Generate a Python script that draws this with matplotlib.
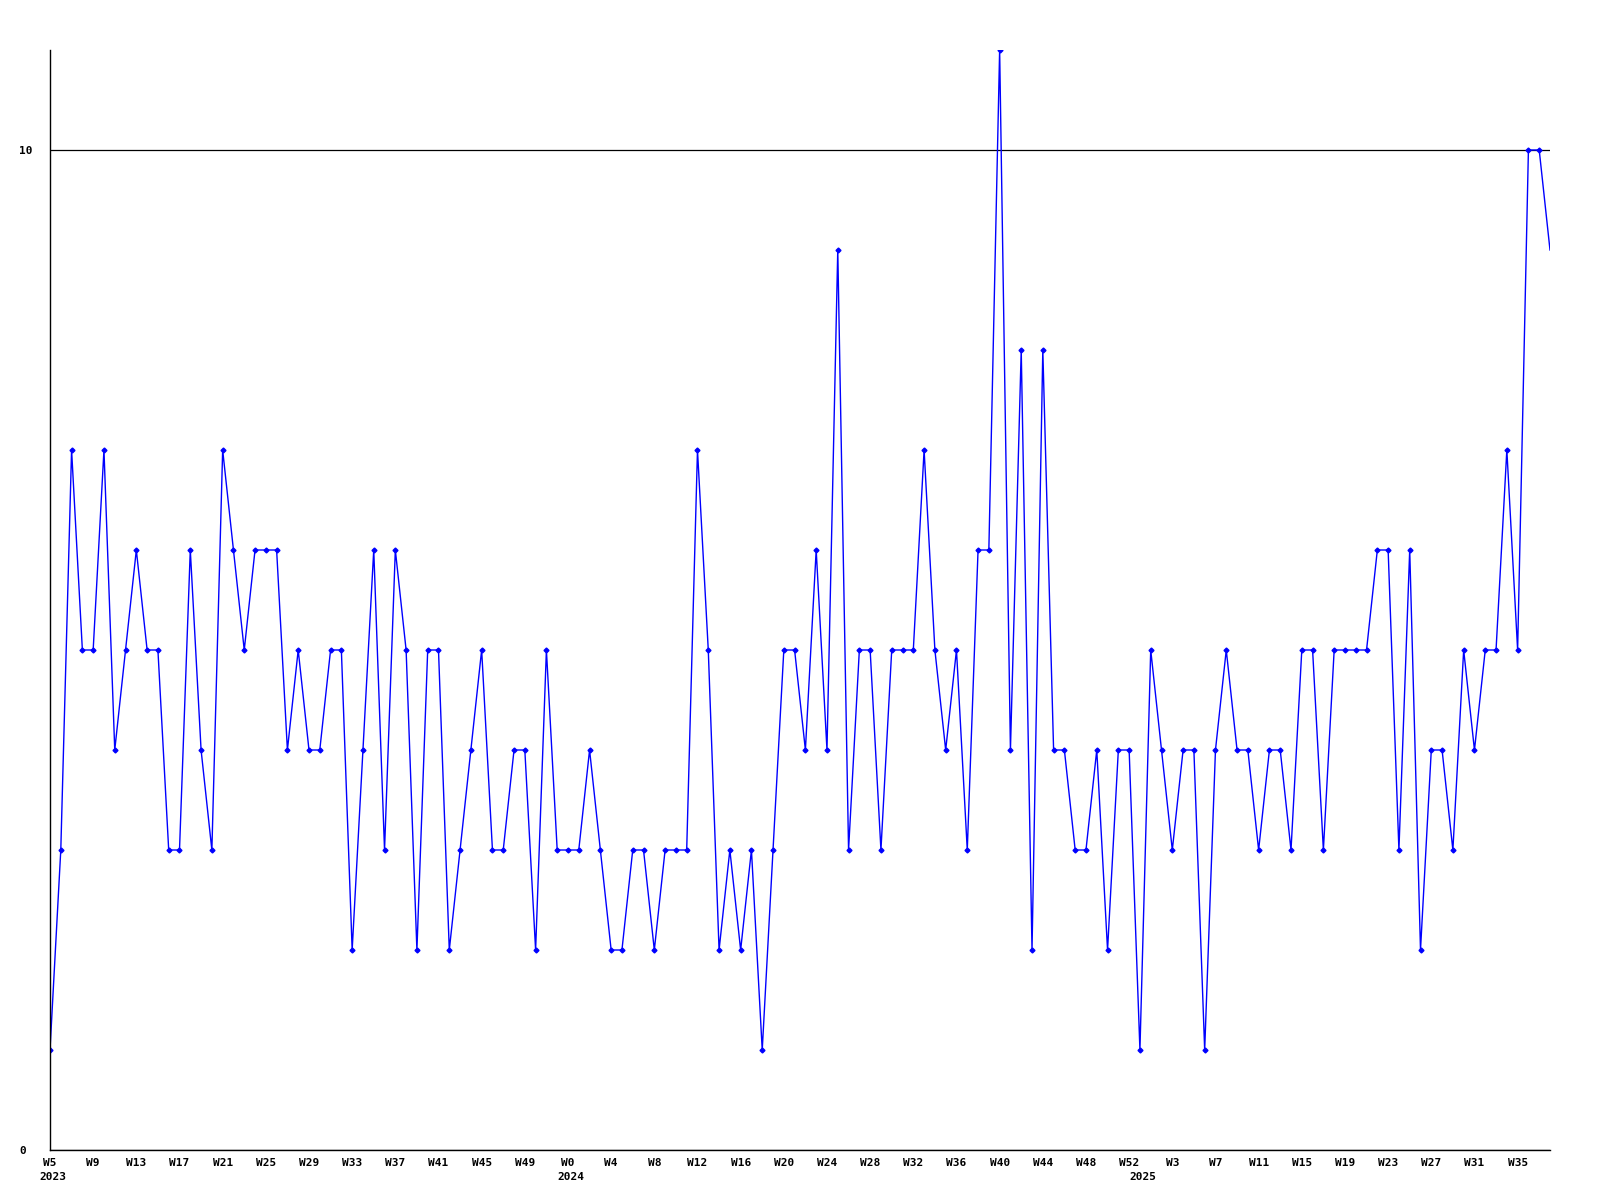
import matplotlib
matplotlib.use("Agg")
import matplotlib.pyplot as plt
import matplotlib.transforms as mtransforms

# weekly counts, W5 2023 .. W37 2025
values = [1, 3, 7, 5, 5, 7, 4, 5, 6, 5,
          5, 3, 3, 6, 4, 3, 7, 6, 5, 6,
          6, 6, 4, 5, 4, 4, 5, 5, 2, 4,
          6, 3, 6, 5, 2, 5, 5, 2, 3, 4,
          5, 3, 3, 4, 4, 2, 5, 3, 3, 3,
          4, 3, 2, 2, 3, 3, 2, 3, 3, 3,
          7, 5, 2, 3, 2, 3, 1, 3, 5, 5,
          4, 6, 4, 9, 3, 5, 5, 3, 5, 5,
          5, 7, 5, 4, 5, 3, 6, 6, 11, 4,
          8, 2, 8, 4, 4, 3, 3, 4, 2, 4,
          4, 1, 5, 4, 3, 4, 4, 1, 4, 5,
          4, 4, 3, 4, 4, 3, 5, 5, 3, 5,
          5, 5, 5, 6, 6, 3, 6, 2, 4, 4,
          3, 5, 4, 5, 5, 7, 5, 10, 10, 9]

week_labels = ["W5", "W9", "W13", "W17", "W21", "W25", "W29", "W33", "W37", "W41",
               "W45", "W49",
               "W0", "W4", "W8", "W12", "W16", "W20", "W24", "W28", "W32", "W36",
               "W40", "W44", "W48", "W52",
               "W3", "W7", "W11", "W15", "W19", "W23", "W27", "W31", "W35"]
week_label_step = 4

years = ["2023", "2024", "2025"]
year_start_idx = [0, 48, 101]

y_ticks = [0, 10]

mono = "DejaVu Sans Mono"

fig = plt.figure(figsize=(16, 12), dpi=100)
ax = fig.add_axes([50 / 1600, 50 / 1200, 1500 / 1600, 1100 / 1200])

x = list(range(len(values)))
# last point sits on the right edge, drawn without its marker
ax.plot(x, values, color="#0000ff", lw=1, marker="D", markersize=2.5,
        markerfacecolor="#0000ff", markeredgecolor="#0000ff",
        markevery=list(range(len(values) - 1)))

ax.set_xlim(0, len(values) - 1)
ax.set_ylim(0, 11)

ax.set_xticks([i * week_label_step for i in range(len(week_labels))])
ax.set_xticklabels(week_labels, fontfamily=mono, fontweight="bold", fontsize=8)
ax.set_yticks(y_ticks)
ax.set_yticklabels([str(v) for v in y_ticks], fontfamily=mono, fontweight="bold",
                   fontsize=8, ha="left")
ax.tick_params(axis="x", length=0, pad=6)
ax.tick_params(axis="y", length=0, pad=22)

ax.grid(axis="y", color="black", lw=0.9)
ax.set_axisbelow(True)

for s in ["top", "right"]:
    ax.spines[s].set_visible(False)
for s in ["left", "bottom"]:
    ax.spines[s].set_color("black")
    ax.spines[s].set_linewidth(1)

trans = mtransforms.blended_transform_factory(ax.transData, ax.transAxes)
for yr, idx in zip(years, year_start_idx):
    ax.annotate(yr, xy=(idx, 0), xycoords=trans, xytext=(2, -16),
                textcoords="offset points", ha="center", va="top",
                fontfamily=mono, fontweight="bold", fontsize=8)

fig.savefig("out.png", dpi=100)
